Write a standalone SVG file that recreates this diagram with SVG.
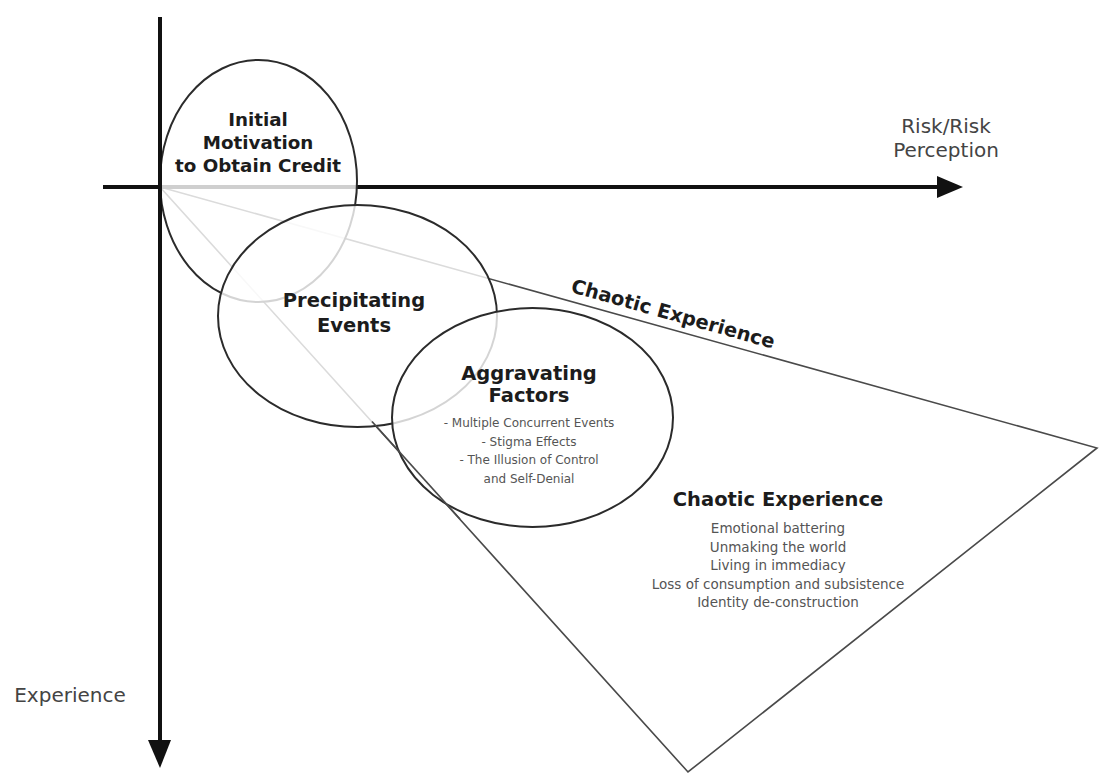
<svg xmlns="http://www.w3.org/2000/svg" width="1101" height="774" viewBox="0 0 1101 774">
  <style>
    text { font-family: "DejaVu Sans", "Liberation Sans", sans-serif; text-anchor: middle; }
    .head { font-weight: bold; font-size: 19.5px; fill: #1c1c1c; }
    .head.small { font-size: 18.3px; }
    .item { font-size: 12px; fill: #555; }
    .list { font-size: 13.5px; fill: #555; }
    .axis-label { font-size: 20px; fill: #444; }
    .along { text-anchor: start; }
    .bubble { fill: #fff; fill-opacity: 0.8; stroke: #2b2b2b; stroke-width: 2; }
    .axis { stroke: #111; stroke-width: 4; fill: none; }
    .wedge { fill: none; stroke: #4a4a4a; stroke-width: 1.6; stroke-linejoin: miter; }
  </style>
  <rect width="1101" height="774" fill="#fff"/>

  <!-- spreading wedge of the chaotic phase, drawn first so the bubbles veil it -->
  <g id="chaotic-wedge">
    <polygon class="wedge" points="160,187 1097,448 688,772"/>
    <text class="head along" transform="translate(570,292) rotate(15.6)">Chaotic Experience</text>
  </g>

  <!-- horizontal axis sits under the first bubble -->
  <g id="axis-risk">
    <line class="axis" x1="103" y1="187" x2="940" y2="187"/>
    <polygon points="937,176 963,187 937,198" fill="#111"/>
    <text class="axis-label" x="946" y="133">Risk/Risk</text>
    <text class="axis-label" x="946" y="157">Perception</text>
  </g>

  <g id="node-initial">
    <ellipse class="bubble" cx="258.5" cy="181" rx="98.5" ry="121"/>
    <text class="head small" x="258" y="126">Initial</text>
    <text class="head small" x="258" y="149">Motivation</text>
    <text class="head small" x="258" y="172">to Obtain Credit</text>
  </g>

  <g id="node-precipitating">
    <ellipse class="bubble" cx="357.5" cy="316" rx="139.5" ry="111"/>
    <text class="head" x="354" y="307">Precipitating</text>
    <text class="head" x="354" y="332">Events</text>
  </g>

  <g id="node-aggravating">
    <ellipse class="bubble" cx="532.5" cy="417.5" rx="140.5" ry="109.5"/>
    <!-- lower wedge edge stays dark where it runs through this bubble -->
    <line class="wedge" x1="372" y1="421.5" x2="460" y2="519"/>
    <text class="head" x="529" y="380">Aggravating</text>
    <text class="head" x="529" y="402">Factors</text>
    <text class="item" x="529" y="427">- Multiple Concurrent Events</text>
    <text class="item" x="529" y="446">- Stigma Effects</text>
    <text class="item" x="529" y="464">- The Illusion of Control</text>
    <text class="item" x="529" y="483">and Self-Denial</text>
  </g>

  <g id="node-chaotic">
    <text class="head" x="778" y="506">Chaotic Experience</text>
    <text class="list" x="778" y="533">Emotional battering</text>
    <text class="list" x="778" y="552">Unmaking the world</text>
    <text class="list" x="778" y="570">Living in immediacy</text>
    <text class="list" x="778" y="589">Loss of consumption and subsistence</text>
    <text class="list" x="778" y="607">Identity de-construction</text>
  </g>

  <!-- vertical axis stays crisp on top -->
  <g id="axis-experience">
    <line class="axis" x1="160" y1="17" x2="160" y2="744"/>
    <polygon points="148,740 171,740 160,768" fill="#111"/>
    <text class="axis-label" x="70" y="702">Experience</text>
  </g>
</svg>
